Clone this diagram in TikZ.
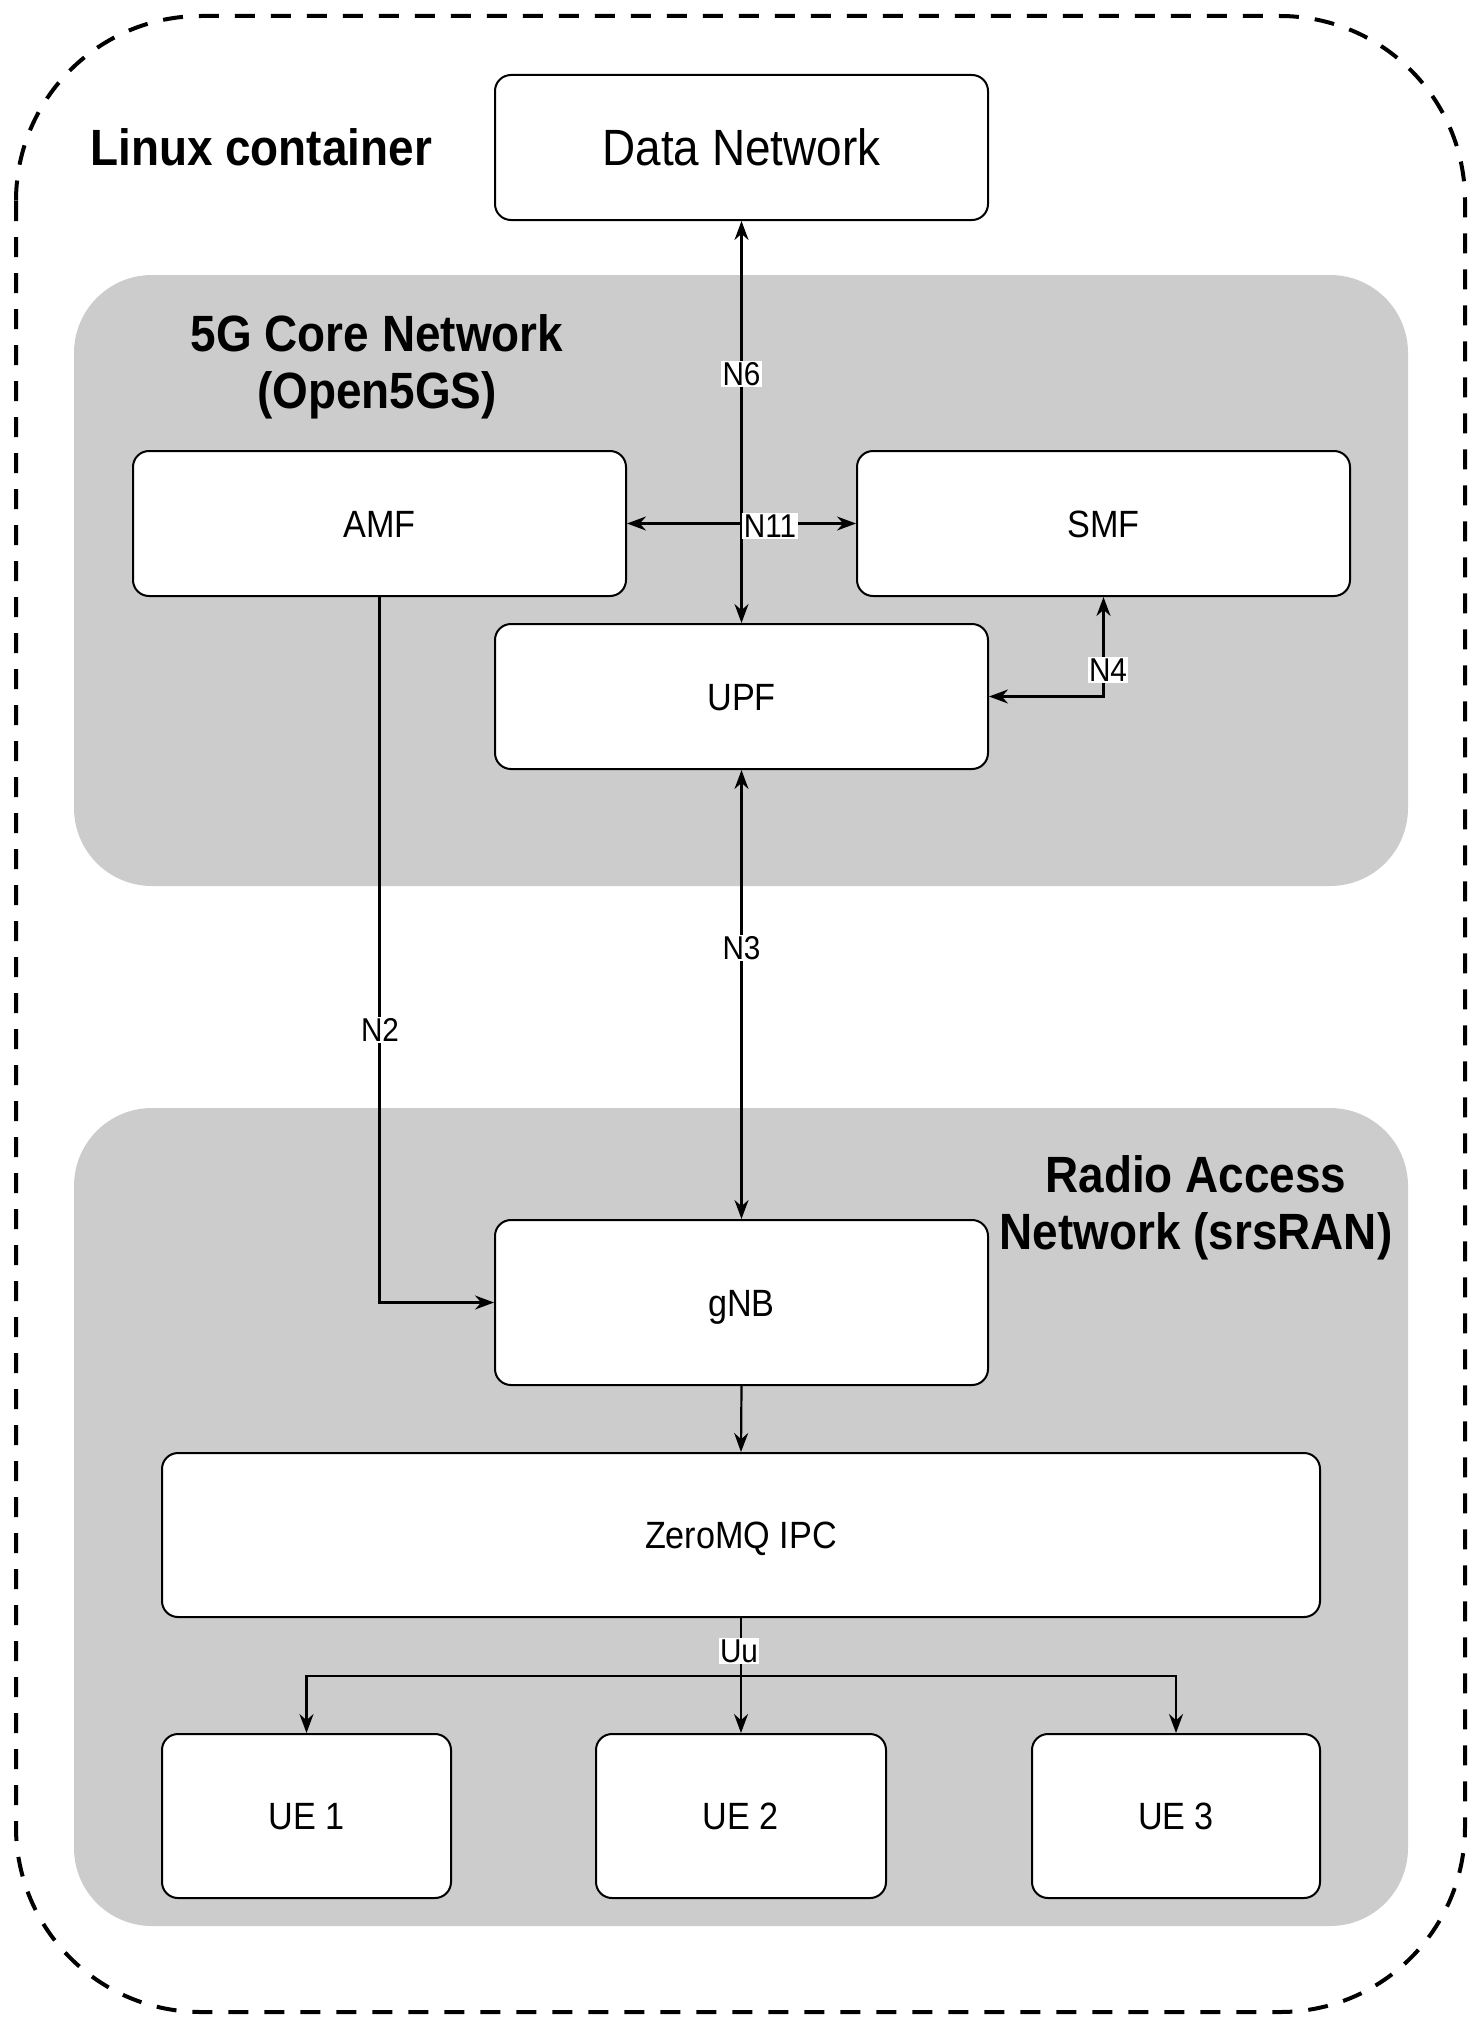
\documentclass[tikz,border=0pt]{standalone}
\usepackage{fontspec}
\setmainfont{Liberation Sans}[FakeStretch=0.9]
\usetikzlibrary{arrows.meta}
\definecolor{regiongray}{HTML}{CCCCCC}
\tikzset{
  box/.style={draw=black, line width=2pt, fill=white, rounded corners=16pt, inner sep=0pt,
    text height=27.2pt, text depth=0pt, font=\fontsize{38}{45}\selectfont},
  region/.style={fill=regiongray, draw=none, rounded corners=78pt},
  conn/.style={draw=black, line width=2.2pt, -{Stealth[length=19pt,width=14pt]}},
  conn2/.style={draw=black, line width=2.2pt, {Stealth[length=19pt,width=14pt]}-{Stealth[length=19pt,width=14pt]}},
  lbl/.style={fill=white, inner sep=1.5pt, font=\fontsize{33}{37}\selectfont},
  title/.style={font=\bfseries\fontsize{51}{57}\selectfont, align=center, inner sep=0pt},
}
\begin{document}
\begin{tikzpicture}[x=1pt,y=-1pt]
\useasboundingbox (0,0) rectangle (1479,2028);
\fill[white] (0,0) rectangle (1479,2028);
% outer container
\draw[line width=4pt, dash pattern=on 20pt off 16pt, rounded corners=185pt] (16,16) rectangle (1465,2012);
% regions
\fill[region] (74,275) rectangle (1408,886);
\fill[region] (74,1108) rectangle (1408,1926);
% titles
\node[title, anchor=west] (lc) at (90,147) {Linux container};
\node[title] (coret) at (377,367) {5G Core Network\\(Open5GS)};
\node[title] (rant) at (1196,1208) {Radio Access\\Network (srsRAN)};
% boxes
\node[box, minimum width=493pt, minimum height=145pt, text height=36.5pt, font=\fontsize{51}{57}\selectfont] (dn) at (741.5,147.5) {Data Network};
\node[box, minimum width=493pt, minimum height=145pt] (amf) at (379.5,523.5) {AMF};
\node[box, minimum width=493pt, minimum height=145pt] (smf) at (1103.5,523.5) {SMF};
\node[box, minimum width=493pt, minimum height=145pt] (upf) at (741.5,696.5) {UPF};
\node[box, minimum width=493pt, minimum height=165pt] (gnb) at (741.5,1302.5) {gNB};
\node[box, minimum width=1158pt, minimum height=164pt] (zmq) at (741,1535) {ZeroMQ IPC};
\node[box, minimum width=289pt, minimum height=164pt] (ue1) at (306.5,1816) {UE 1};
\node[box, minimum width=290pt, minimum height=164pt] (ue2) at (741,1816) {UE 2};
\node[box, minimum width=288pt, minimum height=164pt] (ue3) at (1176,1816) {UE 3};
% connectors
\draw[conn2] (dn.south) -- (upf.north);
\node[lbl] (n6) at (741.5,374) {N6};
\draw[conn2] (amf.east) -- (smf.west);
\node[lbl] (n11) at (770,526) {N11};
\draw[conn2] (smf.south) |- (upf.east);
\node[lbl] (n4) at (1108,670) {N4};
\draw[conn2] (upf.south) -- (gnb.north);
\node[lbl] (n3) at (741.5,948) {N3};
\draw[conn] (amf.south) |- (gnb.west);
\node[lbl] (n2) at (380,1030) {N2};
\draw[conn] (gnb.south) -- (zmq.north);
\coordinate (br) at (741,1676);
\draw[conn] (zmq.south) -- (ue2.north);
\draw[conn] (br) -| (ue1.north);
\draw[conn] (br) -| (ue3.north);
\node[lbl] (uu) at (739,1651) {Uu};
\end{tikzpicture}
\end{document}
